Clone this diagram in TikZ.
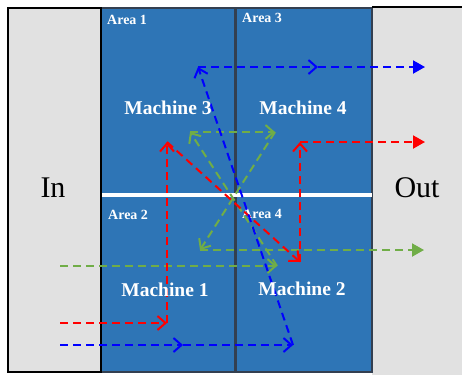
\documentclass[tikz,border=0pt]{standalone}
\usepackage{fontspec}
\setmainfont{Liberation Serif}
\usetikzlibrary{arrows.meta}
\definecolor{areablue}{HTML}{2E75B6}
\definecolor{darkline}{HTML}{333F50}
\definecolor{boxgray}{HTML}{E1E1E1}
\definecolor{flowgreen}{HTML}{70AD47}
\definecolor{flowred}{HTML}{FF0000}
\definecolor{flowblue}{HTML}{0000FF}
\tikzset{
  flow/.style={line width=2pt, dash pattern=on 8pt off 5pt},
  openhead/.style={-{Straight Barb[length=8pt,width=14pt,line width=2pt]}},
  fullhead/.style={-{Triangle[length=12pt,width=13pt]}},
  machinelabel/.style={text=white, font=\fontsize{19.5}{22}\selectfont\bfseries},
  arealabel/.style={text=white, font=\fontsize{14}{16}\selectfont\bfseries, anchor=west, inner sep=0pt},
  sidelabel/.style={text=black, font=\fontsize{30}{34}\selectfont},
}
\begin{document}
\begin{tikzpicture}[x=1pt,y=-1pt]
\useasboundingbox (0,0) rectangle (462,376);
\fill[white] (0,0) rectangle (462,376);
% boxes
\fill[boxgray] (8,8) rectangle (101,372);
\fill[boxgray] (372,8) rectangle (462,375);
\fill[areablue] (101,8) rectangle (372,372);
\draw[darkline, line width=2.5pt] (101,8) rectangle (372,372);
\draw[darkline, line width=3pt] (235,8) -- (235,372);
\draw[white, line width=3.5pt] (101,195) -- (372,195);
\draw[black, line width=2.5pt] (8,8) rectangle (101,372);
\draw[black, line width=2.5pt] (372,7) -- (462,7);
% labels
\node[sidelabel] (in) at (53,188) {In};
\node[sidelabel] (out) at (417,188) {Out};
\node[arealabel] (a1) at (107,20) {Area 1};
\node[arealabel] (a3) at (242,18) {Area 3};
\node[arealabel] (a2) at (108,215) {Area 2};
\node[arealabel] (a4) at (242,214) {Area 4};
% flow coordinates
\coordinate (b0) at (60,345);
\coordinate (b1) at (183,345);
\coordinate (b2) at (293,345);
\coordinate (b3) at (198,67);
\coordinate (b4) at (318,67);
\coordinate (b5) at (425,67);
\coordinate (r0) at (60,323);
\coordinate (r1) at (167,323);
\coordinate (r2) at (167,142);
\coordinate (r3) at (300,262);
\coordinate (r4) at (300,142);
\coordinate (r5) at (425,142);
\coordinate (g0) at (60,266);
\coordinate (g1) at (277,266);
\coordinate (g2) at (190,132);
\coordinate (g3) at (275,132);
\coordinate (g4) at (200,250);
\coordinate (g5) at (424,250);
% green flow
\draw[flow, flowgreen, openhead] (g0) -- (g1);
\draw[flow, flowgreen, openhead] (g1) -- (g2);
\draw[flow, flowgreen, openhead] (g2) -- (g3);
\draw[flow, flowgreen, openhead] (g3) -- (g4);
\draw[flow, flowgreen, fullhead] (g4) -- (g5);
% red flow
\draw[flow, flowred, openhead] (r0) -- (r1);
\draw[flow, flowred, openhead] (r1) -- (r2);
\draw[flow, flowred, openhead] (r2) -- (r3);
\draw[flow, flowred, openhead] (r3) -- (r4);
\draw[flow, flowred, fullhead] (r4) -- (r5);
% blue flow
\draw[flow, flowblue, openhead] (b0) -- (b1);
\draw[flow, flowblue, openhead] (b1) -- (b2);
\draw[flow, flowblue, openhead] (b2) -- (b3);
\draw[flow, flowblue, openhead] (b3) -- (b4);
\draw[flow, flowblue, fullhead] (b4) -- (b5);
% machines
\node[machinelabel] (m3) at (168,108) {Machine 3};
\node[machinelabel] (m4) at (303,108) {Machine 4};
\node[machinelabel] (m1) at (165,290) {Machine 1};
\node[machinelabel] (m2) at (302,289) {Machine 2};
\end{tikzpicture}
\end{document}
